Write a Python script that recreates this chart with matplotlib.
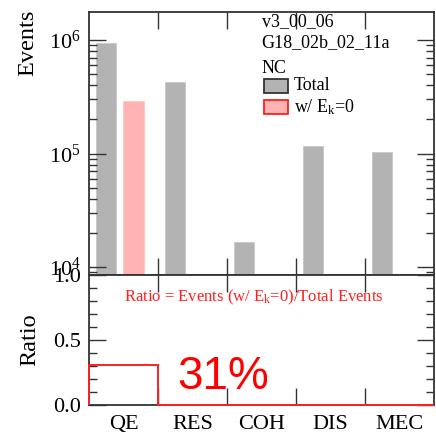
import matplotlib
matplotlib.use("Agg")
import matplotlib.pyplot as plt
import numpy as np
from matplotlib.patches import Rectangle
from matplotlib.ticker import LogLocator, MultipleLocator, FixedLocator, NullFormatter, FixedFormatter

plt.rcParams['font.family'] = ['Liberation Serif', 'DejaVu Serif']
plt.rcParams['mathtext.fontset'] = 'custom'
plt.rcParams['mathtext.rm'] = 'Liberation Serif'
plt.rcParams['mathtext.it'] = 'Liberation Serif:italic'

categories = ["QE", "RES", "COH", "DIS", "MEC"]
total_events = [9.4e5, 4.25e5, 1.67e4, 1.16e5, 1.04e5]
zero_ek_events = [2.89e5, 0, 0, 0, 0]
info_lines = ["v3_00_06", "G18_02b_02_11a", "NC"]
legend_labels = ["Total", r"w/ E$_{\mathrm{k}}$=0"]

W, H = 436, 434
fig = plt.figure(figsize=(W / 100, H / 100), dpi=100)

def axrect(x0, y0, x1, y1):
    return [x0 / W, 1 - y1 / H, (x1 - x0) / W, (y1 - y0) / H]

ax1 = fig.add_axes(axrect(89, 12, 434, 275))
ax2 = fig.add_axes(axrect(89, 275, 434, 405))

n = len(categories)
edges = np.arange(n + 1)
idx = np.arange(n)
gray = "#b3b3b3"
pink = "#ffb3b3"
red = "#ff2020"

tot = np.array(total_events)
zer = np.array(zero_ek_events)
ax1.bar(idx + 0.245, tot, width=0.29, color=gray, edgecolor="#c8c8c8", linewidth=0.6)
m = zer > 0
ax1.bar((idx + 0.64)[m], zer[m], width=0.30, color=pink, edgecolor="#ffc4c4", linewidth=0.6)
ax1.set_yscale("log")
ax1.set_ylim(8500, 1.77e6)
ax1.set_xlim(0, n)

ax1.yaxis.set_major_locator(LogLocator(base=10, numticks=10))
ax1.yaxis.set_minor_locator(LogLocator(base=10, subs=np.arange(2, 10), numticks=10))
ax1.yaxis.set_minor_formatter(NullFormatter())
ax1.xaxis.set_major_locator(FixedLocator(edges[1:-1]))
ax1.set_xticklabels([])
ax1.tick_params(axis="both", which="major", direction="in", length=12, width=1.0,
                top=True, right=True, labelsize=16, color="#333333")
ax1.tick_params(axis="y", which="minor", direction="in", length=6, width=1.0,
                right=True, left=True, color="#333333")
ax1.tick_params(axis="y", which="major", pad=6)

ratio = np.where(tot > 0, zer / tot, 0)
ax2.stairs(ratio, edges, color=red, linewidth=1.4, baseline=0, zorder=5, clip_on=False)
ax2.set_xlim(0, n)
ax2.set_ylim(0, 1.0)
ax2.yaxis.set_major_locator(MultipleLocator(0.5))
ax2.yaxis.set_minor_locator(MultipleLocator(0.1))
ax2.xaxis.set_major_locator(FixedLocator(edges[1:-1]))
ax2.xaxis.set_major_formatter(NullFormatter())
ax2.xaxis.set_minor_locator(FixedLocator(idx + 0.5))
ax2.xaxis.set_minor_formatter(FixedFormatter(categories))
ax2.yaxis.set_major_formatter(matplotlib.ticker.FormatStrFormatter("%.1f"))
ax2.tick_params(axis="both", which="major", direction="in", length=12, width=1.0,
                top=True, right=True, labelsize=16, color="#333333")
ax2.tick_params(axis="y", which="minor", direction="in", length=6, width=1.0,
                right=True, left=True, color="#333333")
ax2.tick_params(axis="x", which="minor", length=0, labelsize=16, pad=7)
ax2.tick_params(axis="y", which="major", pad=6)

for ax in (ax1, ax2):
    for s in ax.spines.values():
        s.set_linewidth(1.3)
        s.set_color("#333333")

# annotations
for i, line in enumerate(info_lines):
    ax1.text(0.50, [0.962, 0.882, 0.787][i], line, transform=ax1.transAxes,
             fontsize=13, va="center", ha="left")
box_y = [0.719, 0.639]
ax1.add_patch(Rectangle((0.508, 0.692), 0.07, 0.053, transform=ax1.transAxes,
                        facecolor=gray, edgecolor="#333333", linewidth=1.3, clip_on=False))
ax1.add_patch(Rectangle((0.508, 0.612), 0.07, 0.053, transform=ax1.transAxes,
                        facecolor=pink, edgecolor=red, linewidth=1.3, clip_on=False))
for y, lab in zip(box_y, legend_labels):
    ax1.text(0.593, y, lab, transform=ax1.transAxes, fontsize=13, va="center", ha="left")

ax2.text(0.478, 0.83, r"Ratio = Events (w/ E$_{\mathrm{k}}$=0)/Total Events",
         transform=ax2.transAxes, color=red, fontsize=12, ha="center", va="center")
ax2.text(0.255, 0.215, f"{ratio[0]*100:.0f}%", transform=ax2.transAxes, color="red",
         fontsize=33, ha="left", va="center", family=["Liberation Sans"])

fig.text(28 / W, 1 - 10 / H, "Events", rotation=90, fontsize=17.5, ha="center", va="top")
fig.text(30 / W, 1 - 340 / H, "Ratio", rotation=90, fontsize=17.5, ha="center", va="center")

fig.savefig("out.png", dpi=100)
